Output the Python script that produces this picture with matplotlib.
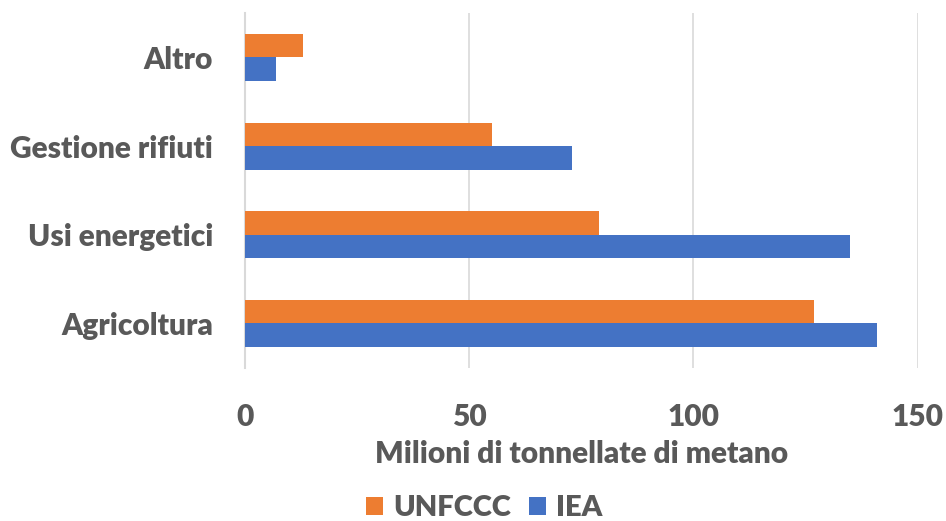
import matplotlib.pyplot as plt
import numpy as np

categories = ["Agricoltura", "Usi energetici", "Gestione rifiuti", "Altro"]
unfccc = [127, 79, 55, 13]
iea = [141, 135, 73, 7]
xticks = [0, 50, 100, 150]

plt.rcParams['font.family'] = ['Lato', 'DejaVu Sans']
grey = '#595959'
orange = '#ED7D31'
blue = '#4472C4'
fs = 21.5
weight = 'heavy'

fig = plt.figure(figsize=(9.46, 5.21), dpi=100)
ax = fig.add_axes([0.259, 0.294, 0.711, 0.681])

y = np.arange(len(categories))
h = 0.265
ax.barh(y - h / 2, iea, height=h, color=blue, label='IEA', zorder=3)
ax.barh(y + h / 2, unfccc, height=h, color=orange, label='UNFCCC', zorder=3)

ax.set_ylim(-0.5, len(categories) - 0.5)
ax.set_xlim(0, 150)
ax.set_xticks(xticks)
ax.set_yticks(y)
ax.set_yticklabels(categories)
ax.grid(axis='x', color='#d9d9d9', linewidth=1.2, zorder=0)
for s in ['top', 'right', 'bottom']:
    ax.spines[s].set_visible(False)
ax.spines['left'].set_color('#d9d9d9')
ax.spines['left'].set_linewidth(1.5)
ax.tick_params(axis='both', length=0, labelsize=fs, labelcolor=grey)
ax.tick_params(axis='y', pad=23)
ax.tick_params(axis='x', pad=25)
for t in ax.get_xticklabels() + ax.get_yticklabels():
    t.set_fontweight(weight)

ax.set_xlabel('Milioni di tonnellate di metano', fontsize=fs, fontweight=weight,
              color=grey, labelpad=7)

handles, labels = ax.get_legend_handles_labels()
leg = fig.legend(handles[::-1], labels[::-1], loc='center', bbox_to_anchor=(0.512, 0.024),
                 ncol=2, frameon=False, fontsize=21, handlelength=0.6, handleheight=0.6,
                 columnspacing=0.6, handletextpad=0.35, borderpad=0.0)
for t in leg.get_texts():
    t.set_color(grey)
    t.set_fontweight(weight)

fig.savefig('out.png', dpi=100)
